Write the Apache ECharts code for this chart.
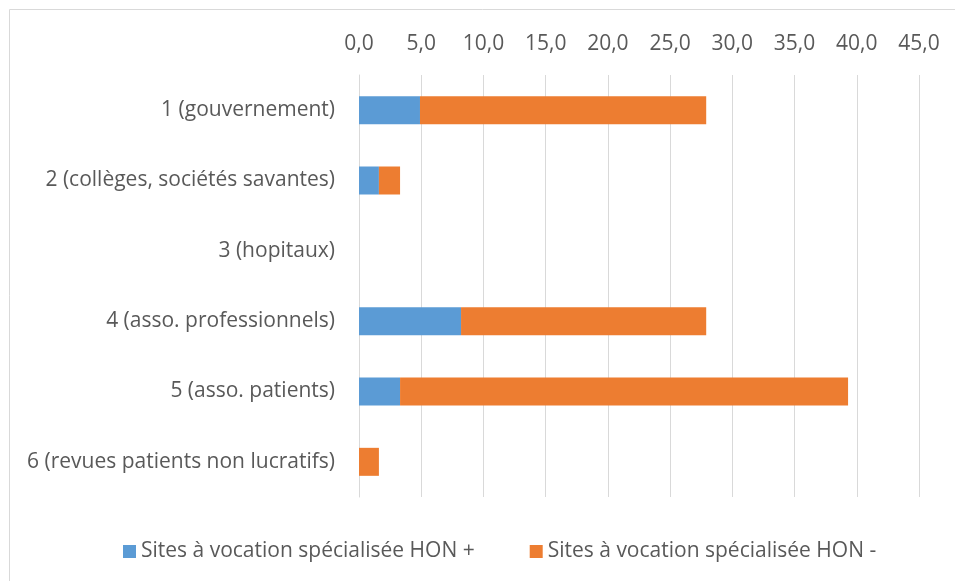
<!DOCTYPE html>
<html lang="fr">

<head>
  <meta charset="UTF-8">
  <title>echarts</title>
  <script src="https://cdn.jsdelivr.net/npm/echarts@6/dist/echarts.min.js"></script>
  <style>
    html,
    body {
      padding: 0;
      margin: 0;
      background: #fff;
    }

    #chart {
      height: 581px;
      width: 955px;
    }
  </style>
</head>

<body>
  <div id="chart"></div>
  <script>
    // données
    const categories = [
      '1 (gouvernement)',
      '2 (collèges, sociétés savantes)',
      '3 (hopitaux)',
      '4 (asso. professionnels)',
      '5 (asso. patients)',
      '6 (revues patients non lucratifs)'
    ]
    const honPlus = [4.9, 1.6, 0, 8.2, 3.3, 0]
    const honMoins = [23.0, 1.7, 0, 19.7, 36.0, 1.6]
    const seriesNames = ['Sites à vocation spécialisée HON +', 'Sites à vocation spécialisée HON -']

    const font = '"Open Sans", sans-serif'
    const textColor = '#595959'

    const chart = echarts.init(document.getElementById('chart'))
    chart.setOption({
      animation: false,
      color: ['#5B9BD5', '#ED7D31'],
      graphic: [{
        type: 'rect',
        shape: { x: 9.5, y: 9.5, width: 980, height: 600 },
        style: { fill: 'none', stroke: '#d9d9d9', lineWidth: 1 },
        silent: true
      }],
      grid: { left: 359, right: 36, top: 75, bottom: 84 },
      legend: {
        top: 536,
        left: 118,
        icon: 'rect',
        itemWidth: 13,
        itemHeight: 13,
        itemGap: 55,
        textStyle: { fontFamily: font, fontSize: 21, color: textColor },
        data: seriesNames
      },
      xAxis: {
        type: 'value',
        position: 'top',
        min: 0,
        max: 45,
        interval: 5,
        axisLine: { show: false },
        axisTick: { show: false },
        axisLabel: {
          margin: 20,
          fontFamily: font,
          fontSize: 21,
          color: textColor,
          formatter: v => v.toFixed(1).replace('.', ',')
        },
        splitLine: { lineStyle: { color: '#d9d9d9', width: 1 } }
      },
      yAxis: {
        type: 'category',
        inverse: true,
        data: categories,
        axisLine: { lineStyle: { color: '#d9d9d9' } },
        axisTick: { show: false },
        axisLabel: {
          margin: 24,
          fontFamily: font,
          fontSize: 21,
          color: textColor
        }
      },
      series: [{
        name: seriesNames[0],
        type: 'bar',
        stack: 'total',
        barWidth: 28,
        data: honPlus
      }, {
        name: seriesNames[1],
        type: 'bar',
        stack: 'total',
        barWidth: 28,
        data: honMoins
      }]
    })
  </script>
</body>

</html>
